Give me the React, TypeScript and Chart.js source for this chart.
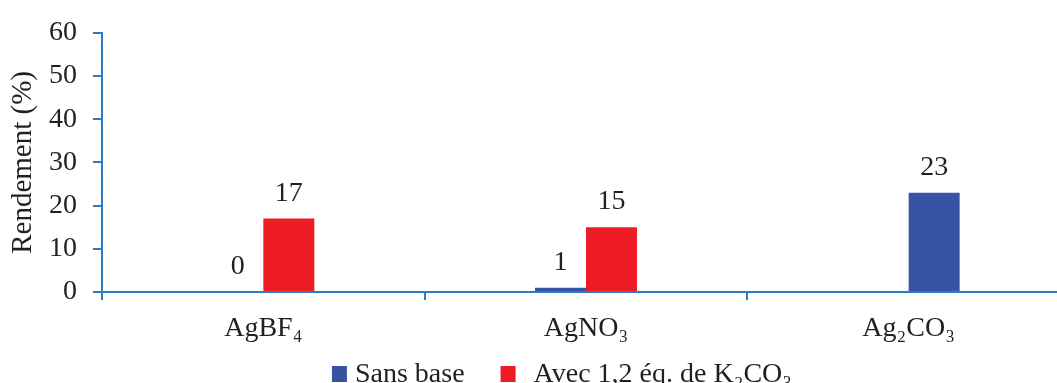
import React, { useEffect, useRef } from 'react';
import { Chart, registerables } from 'chart.js';

Chart.register(...registerables);

// ---- Data ----
const categories = ['AgBF₄', 'AgNO₃', 'Ag₂CO₃'];
const sansBaseLabel = 'Sans base';
const avecLabel = 'Avec 1,2 éq. de K₂CO₃';
const sansBaseValues = [0, 1, null];
const avecValues = [17, 15, null];
// Ag2CO3 "sans base" value, drawn in the second slot of its category as in the original
const sansBaseSecondSlotValues = [null, null, 23];
const yMin = 0;
const yMax = 60;
const yStep = 10;
const yTitle = 'Rendement (%)';

// ---- Style ----
const FONT = '"Liberation Serif", "Times New Roman", serif';
const TEXT = '#231F20';
const AXIS = '#2B7CC6';
const BLUE = '#3953A4';
const RED = '#ED1C24';

const CANVAS_W = 1100;
const CANVAS_H = 400;
const AREA_LEFT = 102;
const AREA_TOP = 28;
const AREA_BOTTOM = 292;
const AREA_RIGHT_PAD = 30;

const LEGEND_CX = 562;
const LEGEND_BOX_W = 15;
const LEGEND_BOX_H = 16;
const LEGEND_BOX_TOP = 366;
const LEGEND_BASELINE = 382;
const LEGEND_GAPS = [8, 18];
const LEGEND_SPACING = 36;

const dataLabelsPlugin = {
  id: 'dataLabels',
  afterDatasetsDraw(chart: any) {
    const ctx = chart.ctx;
    ctx.save();
    ctx.font = `28px ${FONT}`;
    ctx.fillStyle = TEXT;
    ctx.textAlign = 'center';
    ctx.textBaseline = 'alphabetic';
    chart.data.datasets.forEach((ds: any, i: number) => {
      const meta = chart.getDatasetMeta(i);
      meta.data.forEach((el: any, j: number) => {
        const v = ds.data[j];
        if (v === null || v === undefined) return;
        ctx.fillText(String(v), el.x, el.y - 18);
      });
    });
    ctx.restore();
  },
};

const legendPlugin = {
  id: 'bottomLegend',
  afterDraw(chart: any) {
    const ctx = chart.ctx;
    const items = chart.data.datasets.filter((ds: any) => ds.showInLegend);
    ctx.save();
    ctx.font = `28px ${FONT}`;
    const widths = items.map((ds: any) => ctx.measureText(ds.label).width);
    let total = 0;
    items.forEach((_: any, k: number) => {
      total += LEGEND_BOX_W + LEGEND_GAPS[k] + widths[k];
      if (k < items.length - 1) total += LEGEND_SPACING;
    });
    let x = LEGEND_CX - total / 2;
    items.forEach((ds: any, k: number) => {
      ctx.fillStyle = ds.backgroundColor;
      ctx.fillRect(x, LEGEND_BOX_TOP, LEGEND_BOX_W, LEGEND_BOX_H);
      x += LEGEND_BOX_W + LEGEND_GAPS[k];
      ctx.fillStyle = TEXT;
      ctx.textAlign = 'left';
      ctx.textBaseline = 'alphabetic';
      ctx.fillText(ds.label, x, LEGEND_BASELINE);
      x += widths[k] + LEGEND_SPACING;
    });
    ctx.restore();
  },
};

export default function App() {
  const canvasRef = useRef<HTMLCanvasElement | null>(null);

  useEffect(() => {
    if (!canvasRef.current) return;
    const chart = new Chart(canvasRef.current, {
      type: 'bar',
      data: {
        labels: categories,
        datasets: [
          {
            label: sansBaseLabel,
            data: sansBaseValues,
            backgroundColor: BLUE,
            stack: 'a',
            showInLegend: true,
          } as any,
          {
            label: avecLabel,
            data: avecValues,
            backgroundColor: RED,
            stack: 'b',
            showInLegend: true,
          } as any,
          {
            label: sansBaseLabel,
            data: sansBaseSecondSlotValues,
            backgroundColor: BLUE,
            stack: 'b',
            showInLegend: false,
          } as any,
        ],
      },
      options: {
        responsive: false,
        animation: false,
        devicePixelRatio: 1,
        layout: { padding: { left: 0, right: AREA_RIGHT_PAD, top: AREA_TOP, bottom: 0 } },
        datasets: { bar: { categoryPercentage: 0.316, barPercentage: 1, borderWidth: 0 } },
        plugins: { legend: { display: false }, tooltip: { enabled: false } },
        scales: {
          x: {
            grid: {
              offset: true,
              drawOnChartArea: false,
              drawTicks: true,
              tickLength: 8,
              color: AXIS,
              lineWidth: 2,
            },
            border: { display: true, color: AXIS, width: 2 },
            ticks: {
              font: { family: FONT, size: 28 },
              color: TEXT,
              padding: 12,
              autoSkip: false,
              maxRotation: 0,
            },
            afterFit: (s: any) => {
              s.height = CANVAS_H - AREA_BOTTOM;
            },
          },
          y: {
            min: yMin,
            max: yMax,
            ticks: {
              stepSize: yStep,
              font: { family: FONT, size: 28 },
              color: TEXT,
              padding: 16,
            },
            grid: {
              drawOnChartArea: false,
              drawTicks: true,
              tickLength: 9,
              color: AXIS,
              lineWidth: 2,
            },
            border: { display: true, color: AXIS, width: 2 },
            title: {
              display: true,
              text: yTitle,
              font: { family: FONT, size: 29 },
              color: TEXT,
              padding: { top: 6, bottom: 0 },
            },
            afterFit: (s: any) => {
              s.width = AREA_LEFT;
            },
          },
        },
      } as any,
      plugins: [dataLabelsPlugin, legendPlugin],
    });
    return () => chart.destroy();
  }, []);

  return (
    <div style={{ position: 'fixed', left: 0, top: 0, width: CANVAS_W, height: CANVAS_H, background: '#fff' }}>
      <canvas ref={canvasRef} width={CANVAS_W} height={CANVAS_H} style={{ display: 'block' }} />
    </div>
  );
}
